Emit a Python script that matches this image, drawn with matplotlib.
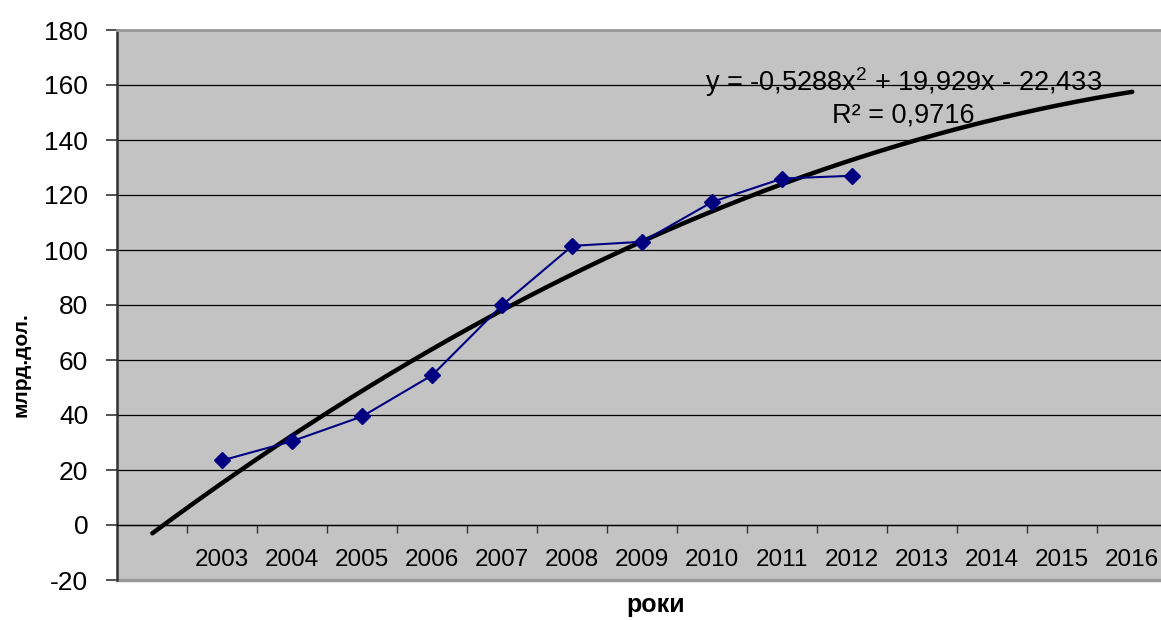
import numpy as np
import matplotlib
matplotlib.use("Agg")
import matplotlib.pyplot as plt
from matplotlib.ticker import MultipleLocator, FixedLocator

plt.rcParams['font.family'] = ['Liberation Sans', 'DejaVu Sans']
plt.rcParams['axes.unicode_minus'] = False
plt.rcParams['mathtext.fontset'] = 'custom'
plt.rcParams['mathtext.rm'] = 'Liberation Sans'
plt.rcParams['mathtext.it'] = 'Liberation Sans'

# категорії осі X (перша порожня, як у вихідній діаграмі)
years = ['', '2003', '2004', '2005', '2006', '2007', '2008', '2009',
         '2010', '2011', '2012', '2013', '2014', '2015', '2016']
data_years = ['2003', '2004', '2005', '2006', '2007',
              '2008', '2009', '2010', '2011', '2012']
values = [23.5, 30.5, 39.5, 54.5, 80, 101.5, 103, 117.5, 126, 127]

# поліноміальний тренд (коефіцієнти з підпису)
trend_coef = [-0.5288, 19.929, -22.433]
eq_text = 'y = -0,5288x$^2$ + 19,929x - 22,433'
r2_text = 'R² = 0,9716'

fig = plt.figure(figsize=(11.61, 6.20), dpi=100)
ax = fig.add_axes([117.3 / 1161, 40 / 620, 1050 / 1161, 550 / 620])
ax.set_facecolor('#c3c3c3')

pos = np.arange(len(years))
xd = [years.index(y) for y in data_years]

# тренд
xt = np.linspace(pos[0], pos[-1], 200)
yt = np.polyval(trend_coef, xt + 1)
ax.plot(xt, yt, color='black', lw=3.2, solid_capstyle='round', zorder=3)

# фактичні дані
ax.plot(xd, values, color='#000080', lw=1.5, marker='D', markersize=8,
        zorder=4)

ax.set_xlim(-0.5, len(years) - 0.5)
ax.set_ylim(-20, 180)
ax.yaxis.set_major_locator(MultipleLocator(20))
ax.grid(axis='y', color='black', lw=0.9, zorder=1)
ax.set_axisbelow(True)

# вісь X проходить через 0
ax.spines['bottom'].set_position(('data', 0))
ax.spines['bottom'].set_color('black')
ax.spines['bottom'].set_linewidth(0.9)
ax.spines['right'].set_visible(False)
ax.spines['top'].set_color('#999999')
ax.spines['top'].set_linewidth(2)
ax.spines['left'].set_color('#333333')
ax.spines['left'].set_linewidth(1.8)
ax.axhline(-20, color='#999999', lw=2.5, zorder=2, clip_on=False)

ax.set_xticks(pos)
ax.set_xticklabels(years, fontsize=17.5)
ax.xaxis.set_minor_locator(FixedLocator(pos[:-1] + 0.5))
ax.tick_params(axis='x', which='major', length=0, pad=17)
ax.tick_params(axis='x', which='minor', length=6, width=1, color='#333333',
               direction='out')
ax.tick_params(axis='y', length=8, width=1.2, color='#333333', pad=13,
               labelsize=19)

ax.text(0.749, 0.878, eq_text + '\n' + r2_text, transform=ax.transAxes,
        ha='center', va='center', fontsize=19.5, linespacing=1.2)

fig.text(21 / 1161, 1 - 365 / 620, 'млрд.дол.', rotation=90, ha='center',
         va='center', fontsize=15, fontweight='bold')
fig.text(656 / 1161, 1 - 605 / 620, 'роки', ha='center', va='center',
         fontsize=18, fontweight='bold')

fig.savefig('out.png', dpi=100)
